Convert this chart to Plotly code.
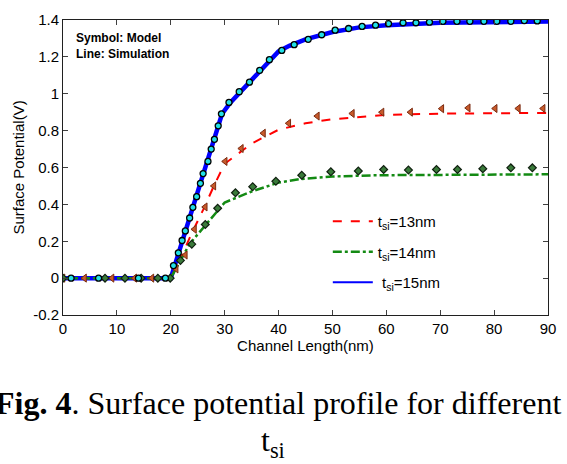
import plotly.graph_objects as go

# Simulation lines
sim_x_13 = [0, 20, 22, 24, 26, 28, 30, 35, 40, 45, 50, 55, 60, 70, 80, 90]
sim_y_13 = [0, 0, 0.12, 0.25, 0.37, 0.50, 0.62, 0.73, 0.805, 0.84, 0.862, 0.876, 0.886, 0.892, 0.895, 0.896]

sim_x_14 = [0, 20, 23.5, 28.7, 30, 35, 40, 44, 50, 58, 70, 90]
sim_y_14 = [0, 0, 0.186, 0.37, 0.41, 0.47, 0.518, 0.537, 0.551, 0.558, 0.561, 0.563]

sim_x_15 = [0, 20, 29.5, 31, 40, 42, 45, 50, 55, 60, 70, 80, 90]
sim_y_15 = [0, 0, 0.89, 0.95, 1.23, 1.26, 1.295, 1.335, 1.36, 1.372, 1.385, 1.39, 1.392]

# Model symbols
mod_x_13 = [0, 4.0, 9.1, 13.3, 16.5, 21.0, 22.7, 24.4, 26.4, 28.0, 30.1, 33.1, 37.2, 41.9,
            47.2, 53.7, 59.2, 64.5, 70.3, 75.2, 80.2, 84.5, 89.1]
mod_y_13 = [0, 0, 0, 0, 0, 0.05, 0.125, 0.265, 0.386, 0.50, 0.633, 0.703, 0.786, 0.84,
            0.879, 0.893, 0.90, 0.90, 0.919, 0.923, 0.92, 0.92, 0.92]

mod_x_14 = [0, 7.8, 11.5, 14.5, 17.6, 19.9, 21.8, 23.9, 26.4, 28.7, 32.0, 35.2, 39.5,
            44.3, 49.7, 54.8, 59.5, 64.1, 69.3, 73.2, 77.9, 83.1, 87.1]
mod_y_14 = [0, 0, 0, 0, 0, 0, 0.096, 0.184, 0.291, 0.379, 0.463, 0.496, 0.525,
            0.558, 0.577, 0.581, 0.589, 0.586, 0.589, 0.589, 0.593, 0.598, 0.598]

mod_x_15 = [1.5, 6.6, 14.0, 19.0, 20.5, 21.4, 22.1, 22.7, 23.5, 24.1, 24.8, 25.5, 26.0,
            26.9, 27.5, 28.1, 28.8, 29.4, 30.8, 32.7, 34.6, 36.5, 38.3, 40.6, 42.9,
            45.5, 48.0, 50.5, 53.0, 55.5, 58.0, 60.4, 63.1, 65.5, 68.0, 70.5, 73.1,
            75.5, 78.1, 80.5, 83.1, 85.6, 88.0]
mod_y_15 = [0, 0, 0, 0, 0.068, 0.137, 0.204, 0.256, 0.326, 0.384, 0.442, 0.514, 0.567,
            0.633, 0.70, 0.753, 0.826, 0.891, 0.953, 1.011, 1.063, 1.127, 1.185, 1.235, 1.266,
            1.295, 1.32, 1.345, 1.354, 1.365, 1.372, 1.38, 1.385, 1.385, 1.388, 1.393, 1.393,
            1.393, 1.393, 1.393, 1.393, 1.397, 1.395]

legend_names = ["t<sub>si</sub>=13nm", "t<sub>si</sub>=14nm", " t<sub>si</sub>=15nm"]
y_ticks = [-0.2, 0, 0.2, 0.4, 0.6, 0.8, 1.0, 1.2, 1.4]
y_tick_text = ["-0.2", "0", "0.2", "0.4", "0.6", "0.8", "1", "1.2", "1.4"]
x_ticks = [0, 10, 20, 30, 40, 50, 60, 70, 80, 90]

RED = "#ff0000"
GREEN = "#138a13"
BLUE = "#0000ff"

fig = go.Figure()

# simulation curves (legend handled by thin-line entries below)
fig.add_trace(go.Scatter(x=sim_x_15, y=sim_y_15, mode="lines", showlegend=False,
                         line=dict(color=BLUE, width=4.5)))
fig.add_trace(go.Scatter(x=sim_x_13, y=sim_y_13, mode="lines", showlegend=False,
                         line=dict(color=RED, width=2, dash="dash")))
fig.add_trace(go.Scatter(x=sim_x_14, y=sim_y_14, mode="lines", showlegend=False,
                         line=dict(color=GREEN, width=2.5, dash="dashdot")))

# model symbols
fig.add_trace(go.Scatter(x=mod_x_13, y=mod_y_13, mode="markers", showlegend=False,
                         marker=dict(symbol="triangle-left", size=7, color="#c85a2a",
                                     line=dict(color="#7a2a10", width=1))))
fig.add_trace(go.Scatter(x=mod_x_14, y=mod_y_14, mode="markers", showlegend=False,
                         marker=dict(symbol="diamond", size=6, color="#3a7a3a",
                                     line=dict(color="#102010", width=1.2))))
fig.add_trace(go.Scatter(x=mod_x_15, y=mod_y_15, mode="markers", showlegend=False,
                         marker=dict(symbol="circle", size=6, color="#20e0e8",
                                     line=dict(color="#000000", width=1.3))))

# legend entries
fig.add_trace(go.Scatter(x=[None], y=[None], mode="lines", name=legend_names[0],
                         line=dict(color=RED, width=2, dash="dash"), legendrank=1, legendgroup="a"))
fig.add_trace(go.Scatter(x=[None], y=[None], mode="lines", name=legend_names[1],
                         line=dict(color=GREEN, width=2.5, dash="dashdot"), legendrank=2, legendgroup="b"))
fig.add_trace(go.Scatter(x=[None], y=[None], mode="lines", name=legend_names[2],
                         line=dict(color=BLUE, width=2), legendrank=3, legendgroup="c"))

axis_common = dict(showline=True, linecolor="#202020", linewidth=1, mirror="ticks",
                   ticks="inside", ticklen=5, tickcolor="#404040", showgrid=False,
                   zeroline=False, tickfont=dict(family="Liberation Sans", size=15, color="#000"))

fig.update_xaxes(range=[0, 90], tickvals=x_ticks,
                 title=dict(text="Channel Length(nm)", font=dict(family="Liberation Sans", size=15, color="#000"),
                            standoff=0),
                 **axis_common)
fig.update_yaxes(range=[-0.2, 1.4], tickvals=y_ticks, ticktext=y_tick_text,
                 title=dict(text="Surface Potential(V)", font=dict(family="Liberation Sans", size=15, color="#000"),
                            standoff=4),
                 **axis_common)

fig.update_layout(
    width=567, height=464,
    margin=dict(l=63, r=17, t=11, b=149),
    paper_bgcolor="white", plot_bgcolor="white",
    showlegend=True,
    legend=dict(x=0.546, y=0.373, xanchor="left", yanchor="top",
                bgcolor="rgba(0,0,0,0)", tracegroupgap=8, itemwidth=40,
                font=dict(family="Liberation Sans", size=15, color="#000")),
    annotations=[
        dict(text="<b>Symbol: Model<br>Line: Simulation</b>", xref="paper", yref="paper",
             x=0.022, y=0.971, xanchor="left", yanchor="top", align="left", showarrow=False,
             font=dict(family="Liberation Sans", size=12, color="#000")),
        dict(text="<b>Fig. 4</b>. Surface potential profile for different", xref="paper", yref="paper",
             x=0.4425, y=-0.299, xanchor="center", yanchor="middle", showarrow=False,
             font=dict(family="Liberation Serif", size=32, color="#000")),
        dict(text="t<sub>si</sub>", xref="paper", yref="paper",
             x=0.433, y=-0.433, xanchor="center", yanchor="middle", showarrow=False,
             font=dict(family="Liberation Serif", size=32, color="#000")),
    ],
)

fig.write_html("out.html")
